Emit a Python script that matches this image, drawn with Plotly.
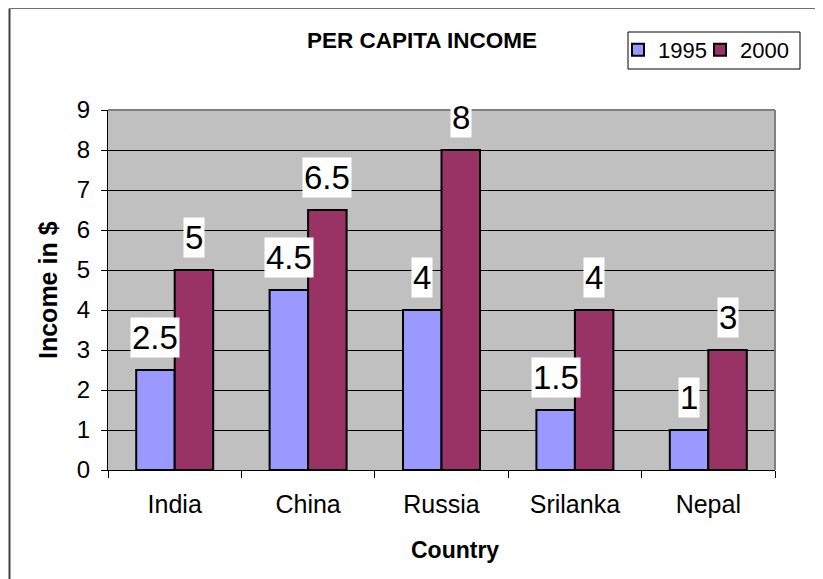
import plotly.graph_objects as go

countries = ["India", "China", "Russia", "Srilanka", "Nepal"]
income_1995 = [2.5, 4.5, 4, 1.5, 1]
income_2000 = [5, 6.5, 8, 4, 3]
series_names = ["1995", "2000"]
y_ticks = [0, 1, 2, 3, 4, 5, 6, 7, 8, 9]

FONT = "Liberation Sans, Arial, Helvetica, sans-serif"
C1995 = "#9999FF"
C2000 = "#993366"

# page body has an 8px margin, so the figure is drawn 8px smaller
OFF = 8
W, H = 823 - OFF, 579 - OFF
L = 108 - OFF
T = 110 - OFF
R = W - (775 - OFF)
B = H - (470 - OFF)
plot_w = W - L - R
plot_h = H - T - B

def px_x(px):  # reference-page pixel -> paper x
    return (px - OFF - L) / plot_w

def px_y(py):  # reference-page pixel -> paper y
    return (H - B - (py - OFF)) / plot_h

fig = go.Figure()
for name, vals, col, lg in [(series_names[0], income_1995, C1995, "legend"),
                            (series_names[1], income_2000, C2000, "legend2")]:
    fig.add_trace(go.Bar(
        x=countries, y=vals, name=name, legend=lg,
        marker=dict(color=col, line=dict(color="black", width=2)),
        hoverinfo="x+y",
    ))

# bar value labels with white boxes
cat_w = plot_w / len(countries)
bargap = 0.423
bar_w = cat_w * (1 - bargap) / 2
annotations = []
for vals, sign in [(income_1995, -1), (income_2000, 1)]:
    for c, v in zip(countries, vals):
        annotations.append(dict(
            x=c, y=v, xref="x", yref="y",
            text=f"{v:g}", showarrow=False,
            xanchor="center", yanchor="bottom",
            xshift=sign * bar_w / 2, yshift=12,
            bgcolor="white", borderpad=1,
            font=dict(family=FONT, size=33, color="black"),
        ))

# axis titles
annotations.append(dict(
    x=px_x(48), y=0.5, xref="paper", yref="paper",
    text="<b>Income in $</b>", textangle=-90, showarrow=False,
    xanchor="center", yanchor="middle",
    font=dict(family=FONT, size=25, color="black"),
))
annotations.append(dict(
    x=px_x(455), y=px_y(550), xref="paper", yref="paper",
    text="<b>Country</b>", showarrow=False,
    xanchor="center", yanchor="middle",
    font=dict(family=FONT, size=23, color="black"),
))

shapes = [
    # plot area top & right border (gray)
    dict(type="line", xref="paper", yref="paper", x0=0, x1=1, y0=1, y1=1,
         line=dict(color="#808080", width=2), layer="above"),
    dict(type="line", xref="paper", yref="paper", x0=1, x1=1, y0=0, y1=1,
         line=dict(color="#808080", width=2), layer="above"),
    # outer chart frame (left & top visible)
    dict(type="line", xref="paper", yref="paper",
         x0=px_x(9.5), x1=px_x(9.5), y0=px_y(600), y1=px_y(8.5),
         line=dict(color="#404040", width=2)),
    dict(type="line", xref="paper", yref="paper",
         x0=px_x(9.5), x1=px_x(840), y0=px_y(8.5), y1=px_y(8.5),
         line=dict(color="#707070", width=1)),
    # legend frame
    dict(type="rect", xref="paper", yref="paper",
         x0=px_x(628), x1=px_x(800), y0=px_y(69), y1=px_y(32),
         fillcolor="white", line=dict(color="black", width=1)),
]

legend_common = dict(
    orientation="h", xanchor="left", yanchor="top",
    bgcolor="rgba(0,0,0,0)", borderwidth=0,
    font=dict(family=FONT, size=22, color="black"),
    itemsizing="constant",
)

fig.update_layout(
    width=W, height=H,
    margin=dict(l=L, r=R, t=T, b=B, pad=0),
    paper_bgcolor="white",
    plot_bgcolor="#C0C0C0",
    barmode="group", bargap=bargap, bargroupgap=0,
    title=dict(text="<b>PER CAPITA INCOME</b>", x=px_x(422), xref="paper",
               xanchor="center", y=1 - (40 - OFF) / H, yanchor="middle",
               font=dict(family=FONT, size=22.5, color="black")),
    font=dict(family=FONT, color="black"),
    showlegend=True,
    legend=dict(x=px_x(618), y=px_y(29), **legend_common),
    legend2=dict(x=px_x(700), y=px_y(29), **legend_common),
    xaxis=dict(
        type="category", tickson="boundaries", ticks="outside", ticklen=7,
        tickcolor="black", showline=True, linecolor="black", linewidth=1,
        showgrid=False, tickfont=dict(family=FONT, size=25, color="black"),
        ticklabelstandoff=12,
    ),
    yaxis=dict(
        range=[0, 9], tickvals=y_ticks, ticks="outside", ticklen=6,
        tickcolor="black", showline=True, linecolor="black", linewidth=1,
        showgrid=True, gridcolor="black", gridwidth=1, zeroline=False,
        tickfont=dict(family=FONT, size=24, color="black"),
        ticklabelstandoff=6,
    ),
    annotations=annotations,
    shapes=shapes,
)

fig.write_html("out.html")
